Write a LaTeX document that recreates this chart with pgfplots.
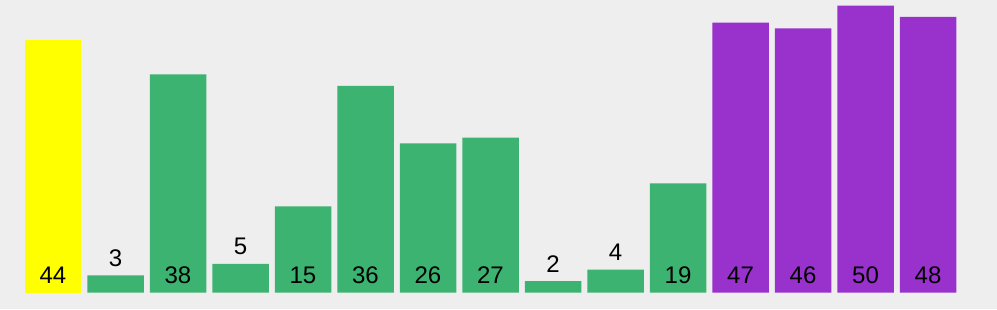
\documentclass[border=0pt]{standalone}
\usepackage{pgfplots}
\pgfplotsset{compat=1.18}
\usepackage{fontspec}
\setmainfont{Liberation Sans}

\definecolor{bg}{HTML}{EEEEEE}
\definecolor{barY}{HTML}{FFFF00}
\definecolor{barG}{HTML}{3CB371}
\definecolor{barP}{HTML}{9932CC}

\begin{document}
\begin{tikzpicture}
\begin{axis}[
  scale only axis,
  width=997bp, height=309bp,
  xmin=-0.848, xmax=15.104,
  ymin=-2.875, ymax=50.96,
  axis lines=none,
  ybar, bar width=56.5bp, bar shift=0pt,
  clip=false,
]
  \fill[bg] (rel axis cs:0,0) rectangle (rel axis cs:1,1);

  % bars
  \addplot[fill=barY, draw=none] coordinates {(0,44)};
  \addplot[fill=barG, draw=none] coordinates {
    (1,3) (2,38) (3,5) (4,15) (5,36) (6,26) (7,27) (8,2) (9,4) (10,19)};
  \addplot[fill=barP, draw=none] coordinates {(11,47) (12,46) (13,50) (14,48)};

  % value labels: inside the bar foot for tall bars, above the bar for short ones
  \addplot[only marks, mark=none, forget plot,
    nodes near coords, point meta=explicit symbolic,
    every node near coord/.style={anchor=base, yshift=9bp, font=\fontsize{24bp}{28bp}\selectfont, text=black}]
    coordinates {
      (0,0) [44] (1,3) [3] (2,0) [38] (3,5) [5] (4,0) [15] (5,0) [36]
      (6,0) [26] (7,0) [27] (8,2) [2] (9,4) [4] (10,0) [19]
      (11,0) [47] (12,0) [46] (13,0) [50] (14,0) [48]};
\end{axis}
\end{tikzpicture}
\end{document}
